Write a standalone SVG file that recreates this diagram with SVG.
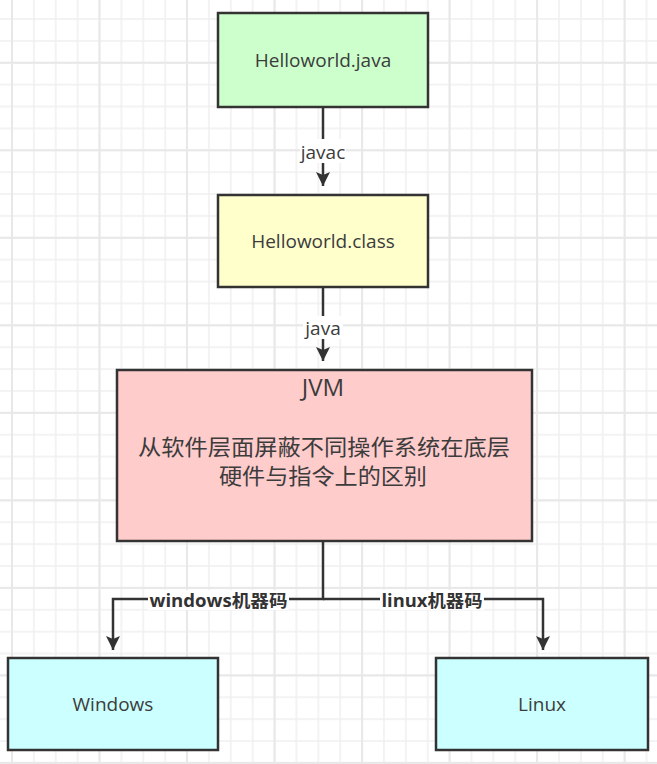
<svg xmlns="http://www.w3.org/2000/svg" width="657" height="764" viewBox="0 0 657 764">
<defs>
<pattern id="minor" patternUnits="userSpaceOnUse" x="1.06" y="8.06" width="21.88" height="21.88">
<path d="M10.94 0V21.88M0 10.94H21.88" stroke="#efefef" stroke-width="1.5" fill="none"/>
</pattern>
<pattern id="major" patternUnits="userSpaceOnUse" x="55.74" y="19" width="87.52" height="87.52">
<path d="M43.76 0V87.52M0 43.76H87.52" stroke="#e8e8e8" stroke-width="2" fill="none"/>
</pattern>
<marker id="arr" viewBox="0 0 14 14" refX="14" refY="7" markerUnits="userSpaceOnUse" markerWidth="14" markerHeight="14" orient="auto">
<path d="M0 0L14 7L0 14L3 7z" fill="#333"/>
</marker>
<style>
.box{stroke:#333;stroke-width:2.5}
.t{font-family:"Open Sans","Noto Sans","Noto Sans CJK SC",sans-serif;font-size:19px;fill:#3c3c3c;text-anchor:middle;dominant-baseline:central}
.cjk{font-family:"Noto Sans CJK SC","Noto Sans",sans-serif;font-size:22px;fill:#3c3c3c;text-anchor:middle;dominant-baseline:central}
.lbl{font-family:"Open Sans","Noto Sans CJK SC",sans-serif;font-size:17px;font-weight:bold;fill:#333;text-anchor:middle;dominant-baseline:central}
.edge{stroke:#333;stroke-width:2.5;fill:none}
.bg{fill:#fff}
</style>
</defs>
<rect width="657" height="764" fill="#fff"/>
<rect width="657" height="764" fill="url(#minor)"/>
<rect width="657" height="764" fill="url(#major)"/>

<g id="connectors">
<path class="edge" d="M323 107V186" marker-end="url(#arr)"/>
<rect class="bg" x="300" y="139" width="46" height="24"/>
<text class="t" x="323" y="152">javac</text>
<path class="edge" d="M323 287V361" marker-end="url(#arr)"/>
<rect class="bg" x="303" y="316" width="40" height="23"/>
<text class="t" x="323" y="328">java</text>
<path class="edge" d="M323 541V599H113V650" marker-end="url(#arr)"/>
<path class="edge" d="M323 599H543V650" marker-end="url(#arr)"/>
<rect class="bg" x="148" y="590" width="141" height="20"/>
<text class="lbl" x="218.5" y="600" textLength="138" lengthAdjust="spacingAndGlyphs">windows机器码</text>
<rect class="bg" x="380" y="590" width="104" height="20"/>
<text class="lbl" x="432" y="600" textLength="101" lengthAdjust="spacingAndGlyphs">linux机器码</text>
</g>

<g id="node-java">
<rect class="box" x="218" y="13" width="210" height="94" fill="#ccffcc"/>
<text class="t" x="323" y="60">Helloworld.java</text>
</g>
<g id="node-class">
<rect class="box" x="218" y="195" width="210" height="92" fill="#ffffcc"/>
<text class="t" x="323" y="241">Helloworld.class</text>
</g>
<g id="node-jvm">
<rect class="box" x="117" y="370" width="415" height="171" fill="#ffcccc"/>
<text class="t" x="323" y="386" style="font-size:24px">JVM</text>
<text class="cjk" x="324" y="445" textLength="372" lengthAdjust="spacingAndGlyphs">从软件层面屏蔽不同操作系统在底层</text>
<text class="cjk" x="323" y="474" textLength="208" lengthAdjust="spacingAndGlyphs">硬件与指令上的区别</text>
</g>
<g id="node-windows">
<rect class="box" x="8" y="658" width="210" height="92" fill="#ccffff"/>
<text class="t" x="113" y="704">Windows</text>
</g>
<g id="node-linux">
<rect class="box" x="436" y="658" width="212" height="92" fill="#ccffff"/>
<text class="t" x="542" y="704">Linux</text>
</g>
</svg>
